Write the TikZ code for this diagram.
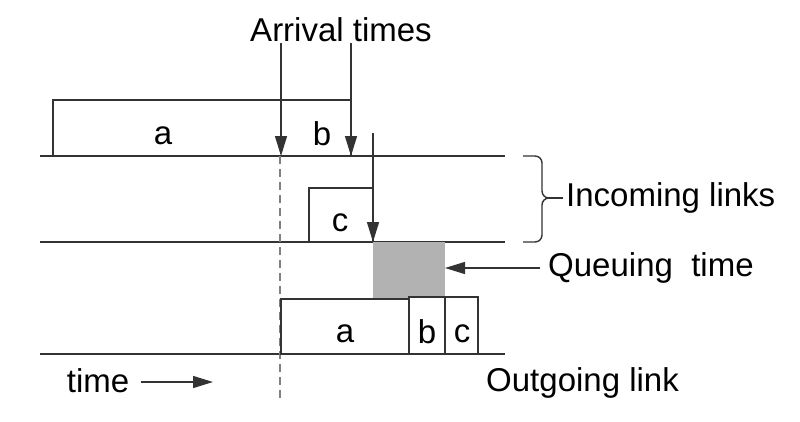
\documentclass[tikz,border=0pt]{standalone}
\usepackage{fontspec}
\setmainfont{Liberation Sans}
\usetikzlibrary{arrows.meta}
\begin{document}
\begin{tikzpicture}[x=1pt,y=-1pt,
  ln/.style={draw=black!80, line width=1.4pt},
  lbl/.style={font=\fontsize{33}{40}\selectfont, inner sep=0pt, text=black},
  arr/.style={ln, -{Triangle[width=12pt,length=20pt]}}]
\useasboundingbox (0,0) rectangle (800,421);
% links
\draw[ln] (40,156) -- (505,156);
\draw[ln] (40,242) -- (505,242);
\draw[ln] (40,354) -- (505,354);
% dashed
\draw[draw=black!50, line width=1.2pt, dash pattern=on 8pt off 5pt] (280,156) -- (280,398);
% incoming boxes
\draw[ln] (53,156) -- (53,100) -- (351,100) -- (351,156);
\node[lbl] (la) at (163,136) {a};
\node[lbl] (lb) at (322,134) {b};
\draw[ln] (309,242) rectangle (373,188);
\node[lbl] (lc) at (340,223) {c};
% queue
\fill[black!30] (373,242) rectangle (445,298);
% outgoing
\draw[ln] (281,354) rectangle (409,299);
\draw[ln] (409,354) rectangle (445,297);
\draw[ln] (445,354) rectangle (478,297);
\node[lbl] (oa) at (345,334) {a};
\node[lbl] (ob) at (427,332) {b};
\node[lbl] (oc) at (462,334) {c};
% arrival
\node[lbl] (arr) at (341,30) {Arrival times};
\coordinate (t1) at (281,156);
\coordinate (t2) at (351,156);
\coordinate (t3) at (373,242);
\draw[arr] (281,43) -- (t1);
\draw[arr] (351,43) -- (t2);
\draw[arr] (373,133) -- (t3);
% queuing
\node[lbl, anchor=west] (q) at (548,268) {Queuing\ \ time};
\coordinate (qb) at (445,268);
\draw[arr] (540,268) -- (qb);
% brace
\draw[ln] (523,156) -- (535,156) to[out=0,in=90] (542,163) -- (542,191)
  to[out=-90,in=180] (549,198) to[out=180,in=90] (542,205) -- (542,235)
  to[out=-90,in=0] (535,242) -- (523,242);
\draw[ln] (549,198) -- (563,198);
\node[lbl, anchor=west] (inc) at (566,198) {Incoming links};
% bottom labels
\node[lbl, anchor=west] (og) at (486,383) {Outgoing link};
\node[lbl] (tm) at (98,381) {time};
\draw[arr] (141,382) -- (213,382);
\end{tikzpicture}
\end{document}
